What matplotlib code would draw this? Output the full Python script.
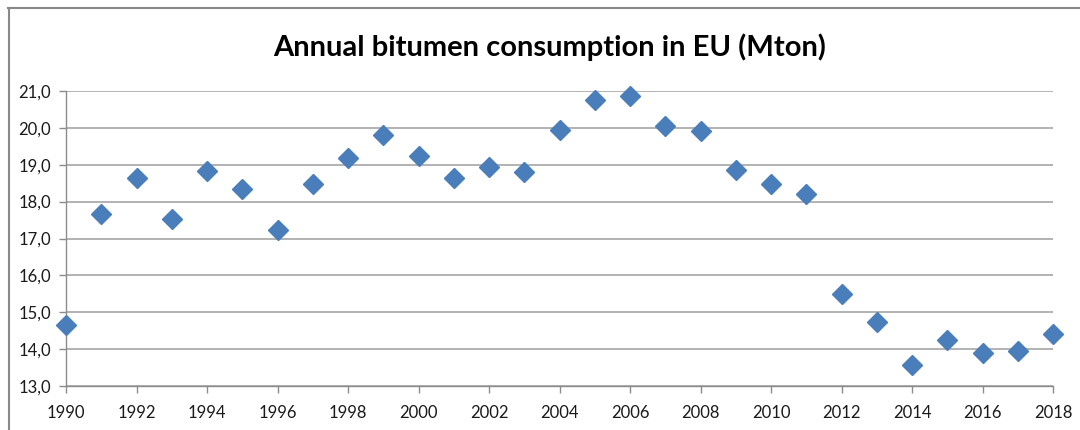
import matplotlib
matplotlib.use('Agg')
import matplotlib.pyplot as plt
from matplotlib.lines import Line2D
from matplotlib.ticker import FuncFormatter, MultipleLocator

# data
years = list(range(1990, 2019))
consumption = [14.65, 17.67, 18.65, 17.53, 18.82, 18.33, 17.24, 18.49, 19.18, 19.80,
               19.25, 18.64, 18.95, 18.79, 19.93, 20.75, 20.86, 20.06, 19.92, 18.87,
               18.48, 18.22, 15.49, 14.74, 13.58, 14.25, 13.89, 13.95, 14.41]
title = 'Annual bitumen consumption in EU (Mton)'

plt.rcParams['font.family'] = ['Lato', 'DejaVu Sans']

fig = plt.figure(figsize=(10.8, 4.3), dpi=100)
fig.patch.set_facecolor('white')
ax = fig.add_axes([66/1080, 1 - 386/430, (1053 - 66)/1080, (386 - 91)/430])

ax.plot(years, consumption, linestyle='none', marker='D', markersize=10,
        color='#4a7ebb', markeredgecolor='#4a7ebb', clip_on=False, zorder=3)

ax.set_xlim(1990, 2018)
ax.set_ylim(13, 21)
ax.xaxis.set_major_locator(MultipleLocator(2))
ax.yaxis.set_major_locator(MultipleLocator(1))
ax.yaxis.set_major_formatter(FuncFormatter(lambda v, p: ('%.1f' % v).replace('.', ',')))

ax.grid(axis='y', color='#a6a6a6', linewidth=1.2)
ax.set_axisbelow(True)
for s in ['top', 'right']:
    ax.spines[s].set_visible(False)
for s in ['left', 'bottom']:
    ax.spines[s].set_color('#8c8c8c')
    ax.spines[s].set_linewidth(1.0)
ax.tick_params(axis='both', direction='out', color='#8c8c8c', length=5, width=1,
               labelsize=12, labelcolor='#1a1a1a')
ax.tick_params(axis='x', pad=9)
ax.tick_params(axis='y', pad=6)

fig.text(550/1080, 1 - 47/430, title, ha='center', va='center', fontsize=21,
         fontweight='bold', color='black')

# outer chart frame (top and left edges visible)
fig.add_artist(Line2D([8/1080, 1], [1 - 8/430, 1 - 8/430], color='#888888', linewidth=1.5))
fig.add_artist(Line2D([8.5/1080, 8.5/1080], [0, 1 - 8/430], color='#888888', linewidth=1.5))

fig.savefig('out.png', dpi=100)
